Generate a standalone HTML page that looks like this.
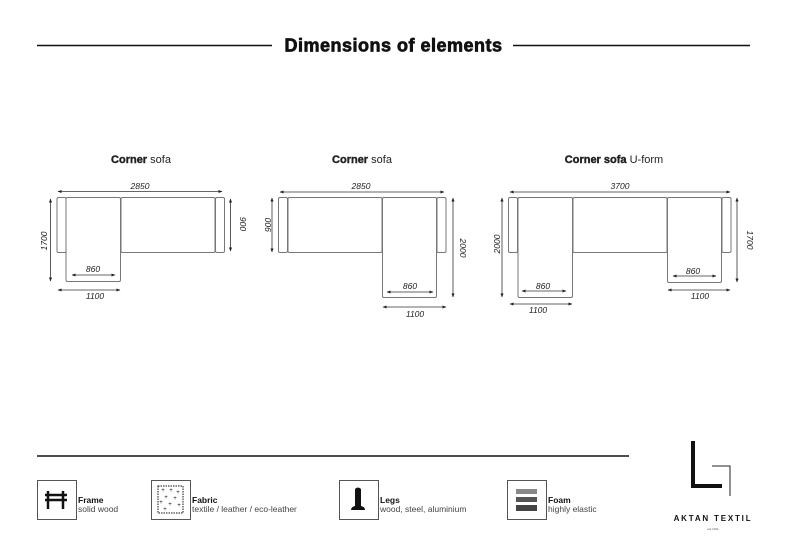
<!DOCTYPE html>
<html><head><meta charset="utf-8"><style>
html,body{margin:0;padding:0;background:#fff;}
svg{display:block;font-family:"Liberation Sans",sans-serif;}
</style></head><body>
<svg width="788" height="557" viewBox="0 0 788 557" xmlns="http://www.w3.org/2000/svg">
<defs>
<marker id="a" viewBox="0 0 10 10" refX="9" refY="5" markerWidth="5" markerHeight="5" orient="auto-start-reverse"><path d="M0,1 L10,5 L0,9 z" fill="#222"/></marker>
</defs>
<rect width="788" height="557" fill="#fff"/>
<line x1="37" y1="45.5" x2="272" y2="45.5" stroke="#111" stroke-width="1.5"/>
<line x1="513" y1="45.5" x2="750" y2="45.5" stroke="#111" stroke-width="1.5"/>
<text x="393.5" y="51.5" text-anchor="middle" font-size="18" font-weight="bold" letter-spacing="0.5" fill="#111" stroke="#111" stroke-width="0.7">Dimensions of elements</text>

<g font-size="11" fill="#222" text-anchor="middle">
<text x="141" y="163"><tspan font-weight="bold" stroke="#222" stroke-width="0.4">Corner</tspan> sofa</text>
<text x="362" y="163"><tspan font-weight="bold" stroke="#222" stroke-width="0.4">Corner</tspan> sofa</text>
<text x="614" y="163"><tspan font-weight="bold" stroke="#222" stroke-width="0.4">Corner sofa</tspan> U-form</text>
</g>

<g fill="none" stroke="#777" stroke-width="1">
<rect x="57" y="197.5" width="9" height="55" rx="1.5"/>
<rect x="66" y="197.5" width="54.5" height="84" rx="1.5"/>
<rect x="121" y="197.5" width="94" height="55" rx="1.5"/>
<rect x="215.5" y="197.5" width="9" height="55" rx="1.5"/>
<rect x="278.5" y="197.5" width="9" height="55" rx="1.5"/>
<rect x="288" y="197.5" width="94" height="55" rx="1.5"/>
<rect x="382.5" y="197.5" width="54" height="100" rx="1.5"/>
<rect x="437" y="197.5" width="9" height="55" rx="1.5"/>
<rect x="508.5" y="197.5" width="9" height="55" rx="1.5"/>
<rect x="518" y="197.5" width="54.5" height="100" rx="1.5"/>
<rect x="573" y="197.5" width="94" height="55" rx="1.5"/>
<rect x="667.5" y="197.5" width="54" height="85" rx="1.5"/>
<rect x="722" y="197.5" width="9" height="55" rx="1.5"/>
</g>

<g stroke="#333" stroke-width="0.8" marker-start="url(#a)" marker-end="url(#a)">
<line x1="58" y1="191.5" x2="222" y2="191.5"/>
<line x1="50.5" y1="199" x2="50.5" y2="281"/>
<line x1="230.5" y1="199" x2="230.5" y2="251"/>
<line x1="72" y1="275" x2="115" y2="275"/>
<line x1="58" y1="290" x2="120" y2="290"/>
<line x1="280" y1="192" x2="444" y2="192"/>
<line x1="272" y1="198" x2="272" y2="252"/>
<line x1="453" y1="198" x2="453" y2="297"/>
<line x1="387" y1="292" x2="433" y2="292"/>
<line x1="383" y1="307" x2="446" y2="307"/>
<line x1="510" y1="192" x2="730" y2="192"/>
<line x1="502" y1="198" x2="502" y2="297"/>
<line x1="737" y1="198" x2="737" y2="282"/>
<line x1="522" y1="291" x2="566" y2="291"/>
<line x1="510" y1="304" x2="572" y2="304"/>
<line x1="673" y1="276" x2="716" y2="276"/>
<line x1="668" y1="290" x2="730" y2="290"/>
</g>

<g font-size="8.5" font-style="italic" fill="#222" text-anchor="middle">
<text x="140" y="189">2850</text>
<text x="93" y="272">860</text>
<text x="95" y="299">1100</text>
<text transform="translate(47,241) rotate(-90)">1700</text>
<text transform="translate(240,224) rotate(90)">900</text>
<text x="361" y="189">2850</text>
<text x="410" y="289">860</text>
<text x="415" y="317">1100</text>
<text transform="translate(271,225) rotate(-90)">900</text>
<text transform="translate(460,248) rotate(90)">2000</text>
<text x="620" y="189">3700</text>
<text x="543" y="289">860</text>
<text x="538" y="313">1100</text>
<text x="693" y="274">860</text>
<text x="700" y="299">1100</text>
<text transform="translate(500,244) rotate(-90)">2000</text>
<text transform="translate(747,240) rotate(90)">1700</text>
</g>

<line x1="37" y1="456" x2="629" y2="456" stroke="#111" stroke-width="1.5"/>

<g fill="none" stroke="#555" stroke-width="1">
<rect x="37.5" y="480.5" width="39" height="39"/>
<rect x="151.5" y="480.5" width="39" height="39"/>
<rect x="339.5" y="480.5" width="39" height="39"/>
<rect x="507.5" y="480.5" width="39" height="39"/>
</g>
<g stroke="#111" stroke-width="2.5">
<line x1="48" y1="491" x2="48" y2="509"/><line x1="63" y1="491" x2="63" y2="509"/>
<line x1="45" y1="495" x2="67" y2="495"/><line x1="45" y1="500" x2="67" y2="500"/>
</g>
<rect x="158" y="486" width="25" height="27" fill="none" stroke="#111" stroke-width="1" stroke-dasharray="1.5,1"/>
<g fill="#111" font-size="6" text-anchor="middle">
<text x="163" y="492">+</text><text x="171" y="492">+</text><text x="178" y="494">+</text>
<text x="166" y="499">+</text><text x="175" y="500">+</text><text x="161" y="504">+</text>
<text x="170" y="506">+</text><text x="179" y="507">+</text><text x="165" y="511">+</text>
</g>
<path d="M355,489 Q358,486 361,489 L361,506 Q365,507 365,510 L351,510 Q351,507 355,506 Z" fill="#111"/>
<rect x="516" y="489" width="21" height="5" fill="#888"/>
<rect x="516" y="497" width="21" height="5" fill="#555"/>
<rect x="516" y="505" width="21" height="6" fill="#444"/>

<g font-size="8.5" fill="#111">
<text x="78" y="503" font-weight="bold">Frame</text>
<text x="78" y="512" fill="#444">solid wood</text>
<text x="192" y="503" font-weight="bold">Fabric</text>
<text x="192" y="512" fill="#444">textile / leather / eco-leather</text>
<text x="380" y="503" font-weight="bold">Legs</text>
<text x="380" y="512" fill="#444">wood, steel, aluminium</text>
<text x="548" y="503" font-weight="bold">Foam</text>
<text x="548" y="512" fill="#444">highly elastic</text>
</g>

<rect x="691" y="441" width="4" height="47" fill="#111"/>
<rect x="691" y="484" width="31" height="4" fill="#111"/>
<polyline points="712,466 730,466 730,496" fill="none" stroke="#222" stroke-width="1"/>
<text x="713" y="521" text-anchor="middle" font-size="8" font-weight="bold" letter-spacing="1.8" fill="#111">AKTAN TEXTIL</text>
<text x="713" y="530" text-anchor="middle" font-size="3" fill="#555">est 2011</text>
</svg>
</body></html>
